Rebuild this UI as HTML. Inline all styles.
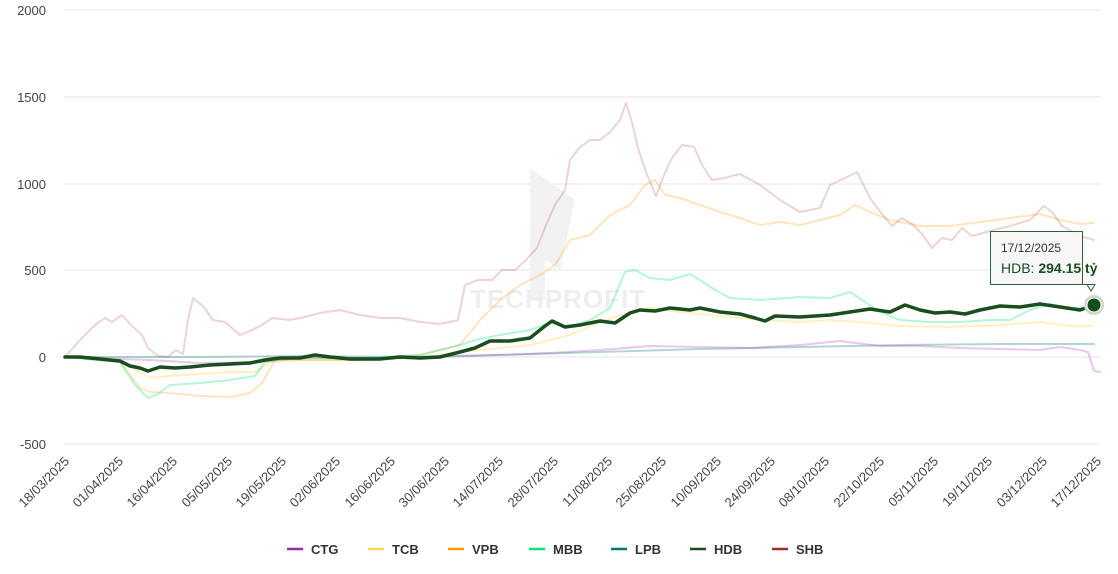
<!DOCTYPE html>
<html><head><meta charset="utf-8"><style>
body{margin:0;background:#fff;font-family:"Liberation Sans",Arial,sans-serif}
svg text{font-family:"Liberation Sans",Arial,sans-serif}
</style></head><body>
<svg width="1118" height="569" viewBox="0 0 1118 569" xmlns="http://www.w3.org/2000/svg">
<g stroke="#e6e6e6" stroke-width="1">
<line x1="64" x2="1100" y1="10" y2="10"/><line x1="64" x2="1100" y1="97" y2="97"/>
<line x1="64" x2="1100" y1="184" y2="184"/><line x1="64" x2="1100" y1="270" y2="270"/>
<line x1="64" x2="1100" y1="357" y2="357"/><line x1="64" x2="1100" y1="444" y2="444"/>
</g>
<g font-size="13" fill="#444" text-anchor="end">
<text x="46" y="15">2000</text><text x="46" y="102">1500</text><text x="46" y="189">1000</text>
<text x="46" y="275">500</text><text x="46" y="362">0</text><text x="46" y="449">-500</text>
</g>
<!-- watermark -->
<polygon points="530,168 575,200 560,270 545,260 545,300 530,300" fill="#f2f2f2"/>
<text x="558" y="308" font-size="26" font-weight="bold" fill="#eeeeee" text-anchor="middle" letter-spacing="1">TECHPROFIT</text>
<g fill="none" stroke-linejoin="round" stroke-linecap="round">
<!-- LPB -->
<polyline stroke="#00796b" stroke-opacity="0.3" stroke-width="2" points="65,357 200,357 300,356 400,357 500,355 600,352 700,349 800,347 900,345 1000,344 1094,344"/>
<!-- CTG -->
<polyline stroke="#9c27b0" stroke-opacity="0.25" stroke-width="2" points="65,357 150,360 200,363 260,362 300,358 400,358 470,356 550,353 600,350 650,346 700,347 750,348 800,345 840,341 880,346 920,346 960,348 1000,349 1040,350 1060,347 1080,350 1088,352 1094,371 1100,372"/>
<!-- VPB -->
<polyline stroke="#ff9800" stroke-opacity="0.25" stroke-width="2" points="65,357 120,362 140,388 150,392 170,393 200,396 230,397 250,393 262,383 275,360 300,360 360,360 420,355 460,345 480,320 500,300 520,285 540,275 555,265 570,240 590,235 610,215 630,205 645,185 655,180 665,195 680,198 700,205 720,212 740,218 760,225 780,222 800,225 820,220 840,215 855,205 870,212 890,220 920,226 950,226 980,222 1010,218 1040,214 1060,220 1080,224 1094,223"/>
<!-- TCB -->
<polyline stroke="#ffc107" stroke-opacity="0.25" stroke-width="2" points="65,357 120,360 140,372 150,378 170,376 200,374 230,372 255,372 270,362 300,360 360,360 420,358 460,352 500,348 530,345 550,340 570,335 600,322 630,312 650,308 680,312 720,316 760,320 800,322 830,320 860,322 900,326 950,327 1000,325 1040,322 1070,326 1094,326"/>
<!-- MBB -->
<polyline stroke="#00e676" stroke-opacity="0.3" stroke-width="2" points="65,357 120,362 135,385 148,398 158,394 170,385 200,383 230,380 255,376 265,362 290,358 360,358 420,355 460,345 475,340 500,335 530,330 550,323 570,327 590,320 610,308 625,272 635,270 650,278 670,280 690,274 700,280 715,290 730,298 760,300 800,297 830,298 850,292 865,302 880,312 900,320 930,322 960,322 990,320 1010,320 1030,310 1050,304 1070,308 1094,307"/>
<!-- SHB -->
<polyline stroke="#a52a2a" stroke-opacity="0.2" stroke-width="2" points="65,357 80,340 95,325 105,318 112,322 122,315 132,326 142,335 148,348 158,356 168,357 176,350 183,354 188,320 193,298 203,306 213,320 225,322 240,335 252,330 262,325 272,318 290,320 305,317 320,313 340,310 360,315 380,318 400,318 420,322 440,324 458,320 465,285 478,280 492,280 502,270 515,270 526,260 537,248 546,225 555,205 565,190 570,160 580,147 590,140 600,140 610,132 620,120 626,103 632,122 638,148 646,172 656,196 664,175 672,158 682,145 694,147 702,165 712,180 724,178 740,174 760,185 780,200 800,212 820,208 830,185 845,178 857,172 870,198 882,214 892,226 902,218 912,224 922,234 932,248 942,238 952,240 962,228 972,236 990,231 1010,226 1030,220 1044,206 1052,212 1062,226 1080,236 1094,240"/>
<!-- HDB -->
<polyline stroke="#1a4d1f" stroke-width="3.5" points="65,357 80,357 100,359 120,361 130,366 140,368 148,371 160,367 175,368 190,367 210,365 230,364 250,363 265,360 280,358 300,358 315,355 330,357 350,359 380,359 400,357 420,358 440,357 460,352 475,348 490,341 510,341 530,338 545,326 552,321 565,327 580,325 600,321 615,323 630,313 640,310 655,311 670,308 690,310 700,308 720,312 740,314 755,318 765,321 775,316 800,317 830,315 850,312 870,309 890,312 905,305 920,310 935,313 950,312 965,314 980,310 1000,306 1020,307 1040,304 1060,307 1080,310 1094,305"/>
</g>
<circle cx="1094" cy="305" r="10" fill="#cfd8cf"/>
<circle cx="1094" cy="305" r="7" fill="#134d1a" stroke="#fff" stroke-width="1"/>
<!-- tooltip -->
<path d="M992.5,231.5 H1084.5 V284.5 H1097 L1093,291 L1089,284.5 H992.5 Z" fill="#f7f7f7" stroke="#2e5e34" stroke-width="1" fill-opacity="0.95" transform="translate(-2,0)"/>
<text x="1001" y="252" font-size="12" fill="#333">17/12/2025</text>
<text x="1001" y="273" font-size="14" fill="#1a4d1f">HDB: <tspan font-weight="bold">294.15 tỷ</tspan></text>
<!-- x labels -->
<g font-size="13" fill="#444" text-anchor="end">
<text transform="translate(70,462) rotate(-45)">18/03/2025</text>
<text transform="translate(124,462) rotate(-45)">01/04/2025</text>
<text transform="translate(178,462) rotate(-45)">16/04/2025</text>
<text transform="translate(233,462) rotate(-45)">05/05/2025</text>
<text transform="translate(287,462) rotate(-45)">19/05/2025</text>
<text transform="translate(341,462) rotate(-45)">02/06/2025</text>
<text transform="translate(396,462) rotate(-45)">16/06/2025</text>
<text transform="translate(450,462) rotate(-45)">30/06/2025</text>
<text transform="translate(504,462) rotate(-45)">14/07/2025</text>
<text transform="translate(559,462) rotate(-45)">28/07/2025</text>
<text transform="translate(613,462) rotate(-45)">11/08/2025</text>
<text transform="translate(667,462) rotate(-45)">25/08/2025</text>
<text transform="translate(722,462) rotate(-45)">10/09/2025</text>
<text transform="translate(776,462) rotate(-45)">24/09/2025</text>
<text transform="translate(830,462) rotate(-45)">08/10/2025</text>
<text transform="translate(885,462) rotate(-45)">22/10/2025</text>
<text transform="translate(939,462) rotate(-45)">05/11/2025</text>
<text transform="translate(993,462) rotate(-45)">19/11/2025</text>
<text transform="translate(1048,462) rotate(-45)">03/12/2025</text>
<text transform="translate(1102,462) rotate(-45)">17/12/2025</text>
</g>
<!-- legend -->
<g font-size="13" font-weight="bold" fill="#333" stroke-width="2.5">
<line x1="287" x2="303" y1="549" y2="549" stroke="#9c27b0"/><text x="311" y="554">CTG</text>
<line x1="368" x2="384" y1="549" y2="549" stroke="#ffd54f"/><text x="392" y="554">TCB</text>
<line x1="448" x2="464" y1="549" y2="549" stroke="#ff9800"/><text x="472" y="554">VPB</text>
<line x1="529" x2="545" y1="549" y2="549" stroke="#00e676"/><text x="553" y="554">MBB</text>
<line x1="611" x2="627" y1="549" y2="549" stroke="#00796b"/><text x="635" y="554">LPB</text>
<line x1="690" x2="706" y1="549" y2="549" stroke="#1a4d1f"/><text x="714" y="554">HDB</text>
<line x1="772" x2="788" y1="549" y2="549" stroke="#a52a2a"/><text x="796" y="554">SHB</text>
</g>
</svg>
</body></html>
